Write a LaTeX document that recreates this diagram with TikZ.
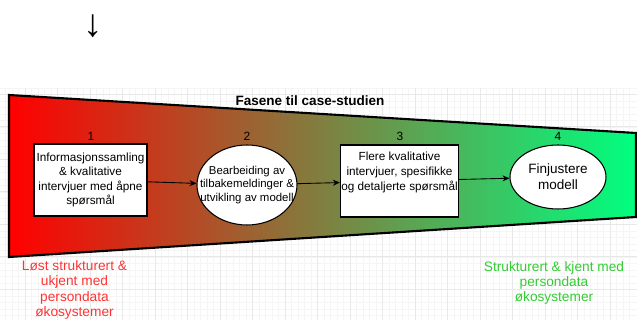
\documentclass[tikz,border=0pt]{standalone}
\usepackage{fontspec}
\setmainfont{Liberation Sans}
\usetikzlibrary{arrows.meta,shapes.geometric}
\definecolor{startred}{RGB}{255,0,0}
\definecolor{endgreen}{RGB}{0,255,128}
\definecolor{loosered}{RGB}{255,51,51}
\definecolor{fixedgreen}{RGB}{51,204,51}
\tikzset{
  gridminor/.style={draw=black!4, line width=0.3pt},
  gridmajor/.style={draw=black!9, line width=0.4pt},
  phasebox/.style={draw, fill=white, rectangle, align=center, inner sep=0.5pt,
    line width=0.6pt},
  phaseoval/.style={draw, fill=white, ellipse, inner sep=0pt, line width=0.6pt},
  ovaltext/.style={align=center, inner sep=0pt},
  phasenum/.style={font=\fontsize{6.8}{8}\selectfont},
  flow/.style={-{Stealth[length=4pt,width=3.4pt]}, line width=0.5pt},
}
\begin{document}
\begin{tikzpicture}[x=0.02cm,y=-0.02cm]
  \useasboundingbox (0,0) rectangle (637,320);
  % background grid
  \foreach \k in {0,...,98} {
    \draw[gridminor] (-7.5+6.5*\k,88) -- ++(0,232);
  }
  \foreach \k in {0,...,36} {
    \draw[gridminor] (0,88+6.5*\k) -- ++(637,0);
  }
  \foreach \k in {0,...,20} {
    \draw[gridmajor] (-7.5+32.5*\k,88) -- ++(0,232);
  }
  \foreach \k in {0,...,7} {
    \draw[gridmajor] (0,94+32.5*\k) -- ++(637,0);
  }
  % down arrow
  \node[font=\fontsize{22}{22}\selectfont] (down) at (93,26) {↓};
  % funnel
  \draw[line width=1.2pt, left color=startred, right color=endgreen]
    (9,95) -- (636,133) -- (636,217) -- (9,257) -- cycle;
  \node[font=\bfseries\fontsize{7.7}{9}\selectfont] (title) at (310,101)
    {Fasene til case-studien};
  % phase numbers
  \foreach \n/\x in {1/91,2/247,3/400,4/558} {
    \node[phasenum] (num\n) at (\x,136) {\n};
  }
  % phases
  \node[phasebox, minimum width=2.26cm, minimum height=1.44cm,
    font=\fontsize{6.7}{8.3}\selectfont] (collect) at (90.5,180)
    {Informasjonssamling\\ \& kvalitative\\ intervjuer med åpne\\ spørsmål};
  \node[phaseoval, minimum width=2cm, minimum height=1.6cm,
    label={[ovaltext, font=\fontsize{6.5}{7.9}\selectfont]center:Bearbeiding av\\ tilbakemeldinger \&\\ utvikling av modell}]
    (rework) at (247,185) {};
  \node[phasebox, minimum width=2.34cm, minimum height=1.44cm,
    font=\fontsize{6.7}{8.5}\selectfont] (detail) at (399.5,181)
    {Flere kvalitative\\ intervjuer, spesifikke\\ og detaljerte spørsmål\\ \strut};
  \node[phaseoval, minimum width=1.92cm, minimum height=1.28cm,
    label={[ovaltext, font=\fontsize{7.7}{9.2}\selectfont]center:Finjustere\\ modell}]
    (refine) at (558,177) {};
  \draw[flow] (collect) -- (rework);
  \draw[flow] (rework) -- (detail);
  \draw[flow] (detail) -- (refine);
  % end states
  \node[align=center, text=loosered, font=\fontsize{7.8}{8.8}\selectfont] (loose)
    at (74.5,290) {Løst strukturert \&\\ ukjent med\\ persondata\\ økosystemer};
  \node[align=center, text=fixedgreen, font=\fontsize{7.8}{8.8}\selectfont] (fixed)
    at (554,283) {Strukturert \& kjent med\\ persondata\\ økosystemer};
\end{tikzpicture}
\end{document}
